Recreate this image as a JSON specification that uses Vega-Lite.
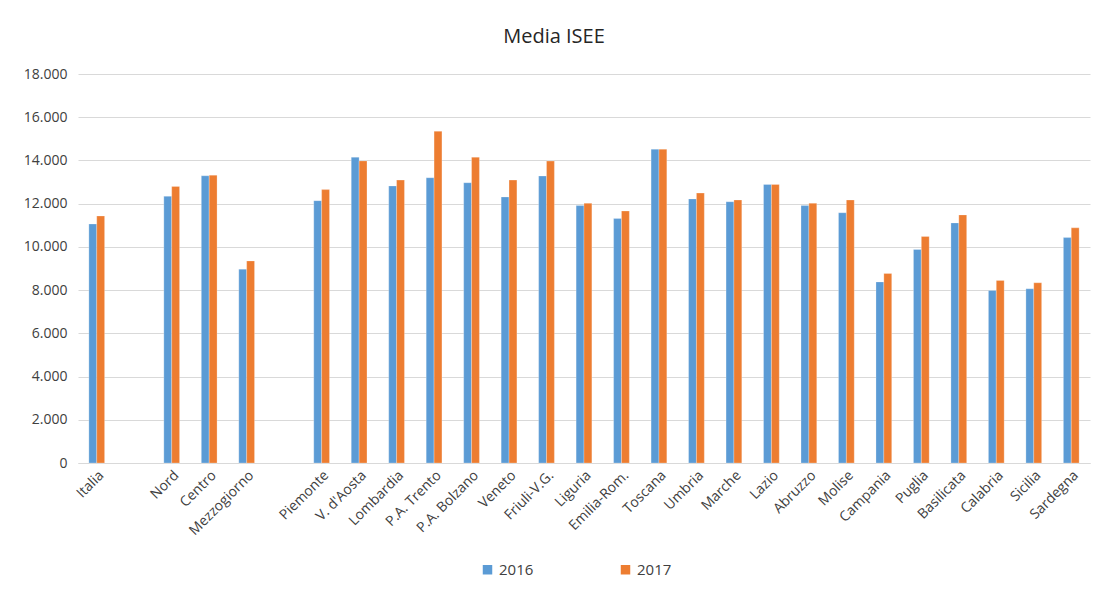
{
  "$schema": "https://vega.github.io/schema/vega-lite/v6.json",
  "autosize": {"type": "none"},
  "width": 1012,
  "height": 389,
  "padding": {"left": 78, "top": 74, "right": 9, "bottom": 134},
  "background": "white",
  "title": {"text": "Media ISEE", "fontSize": 20, "font": "Open Sans", "fontWeight": "normal", "color": "#262626", "offset": 20, "dx": -30},
  "data": {"values": [
    {"area": "Italia", "year": "2016", "isee": 11060}, {"area": "Italia", "year": "2017", "isee": 11430},
    {"area": "Nord", "year": "2016", "isee": 12340}, {"area": "Nord", "year": "2017", "isee": 12800},
    {"area": "Centro", "year": "2016", "isee": 13290}, {"area": "Centro", "year": "2017", "isee": 13320},
    {"area": "Mezzogiorno", "year": "2016", "isee": 8970}, {"area": "Mezzogiorno", "year": "2017", "isee": 9350},
    {"area": "Piemonte", "year": "2016", "isee": 12140}, {"area": "Piemonte", "year": "2017", "isee": 12650},
    {"area": "V. d'Aosta", "year": "2016", "isee": 14150}, {"area": "V. d'Aosta", "year": "2017", "isee": 13980},
    {"area": "Lombardia", "year": "2016", "isee": 12820}, {"area": "Lombardia", "year": "2017", "isee": 13090},
    {"area": "P.A. Trento", "year": "2016", "isee": 13200}, {"area": "P.A. Trento", "year": "2017", "isee": 15350},
    {"area": "P.A. Bolzano", "year": "2016", "isee": 12970}, {"area": "P.A. Bolzano", "year": "2017", "isee": 14150},
    {"area": "Veneto", "year": "2016", "isee": 12310}, {"area": "Veneto", "year": "2017", "isee": 13090},
    {"area": "Friuli-V.G.", "year": "2016", "isee": 13280}, {"area": "Friuli-V.G.", "year": "2017", "isee": 13970},
    {"area": "Liguria", "year": "2016", "isee": 11910}, {"area": "Liguria", "year": "2017", "isee": 12020},
    {"area": "Emilia-Rom.", "year": "2016", "isee": 11310}, {"area": "Emilia-Rom.", "year": "2017", "isee": 11660},
    {"area": "Toscana", "year": "2016", "isee": 14520}, {"area": "Toscana", "year": "2017", "isee": 14520},
    {"area": "Umbria", "year": "2016", "isee": 12220}, {"area": "Umbria", "year": "2017", "isee": 12490},
    {"area": "Marche", "year": "2016", "isee": 12090}, {"area": "Marche", "year": "2017", "isee": 12170},
    {"area": "Lazio", "year": "2016", "isee": 12890}, {"area": "Lazio", "year": "2017", "isee": 12890},
    {"area": "Abruzzo", "year": "2016", "isee": 11910}, {"area": "Abruzzo", "year": "2017", "isee": 12020},
    {"area": "Molise", "year": "2016", "isee": 11580}, {"area": "Molise", "year": "2017", "isee": 12170},
    {"area": "Campania", "year": "2016", "isee": 8380}, {"area": "Campania", "year": "2017", "isee": 8770},
    {"area": "Puglia", "year": "2016", "isee": 9880}, {"area": "Puglia", "year": "2017", "isee": 10480},
    {"area": "Basilicata", "year": "2016", "isee": 11110}, {"area": "Basilicata", "year": "2017", "isee": 11480},
    {"area": "Calabria", "year": "2016", "isee": 7980}, {"area": "Calabria", "year": "2017", "isee": 8450},
    {"area": "Sicilia", "year": "2016", "isee": 8060}, {"area": "Sicilia", "year": "2017", "isee": 8340},
    {"area": "Sardegna", "year": "2016", "isee": 10430}, {"area": "Sardegna", "year": "2017", "isee": 10880}
  ]},
  "mark": {"type": "bar", "stroke": "white", "strokeOpacity": 0.5, "strokeWidth": 0.5},
  "encoding": {
    "x": {
      "field": "area", "type": "nominal",
      "scale": {"domain": ["Italia", "_gap1", "Nord", "Centro", "Mezzogiorno", "_gap2", "Piemonte", "V. d'Aosta", "Lombardia", "P.A. Trento", "P.A. Bolzano", "Veneto", "Friuli-V.G.", "Liguria", "Emilia-Rom.", "Toscana", "Umbria", "Marche", "Lazio", "Abruzzo", "Molise", "Campania", "Puglia", "Basilicata", "Calabria", "Sicilia", "Sardegna"], "paddingInner": 0.58, "paddingOuter": 0.29},
      "axis": {"title": null, "labelAngle": -45, "labelAlign": "right", "labelBaseline": "top", "labelFont": "Open Sans", "labelFontSize": 14, "labelColor": "#404040", "labelExpr": "indexof(datum.value, '_gap') == 0 ? '' : datum.value", "ticks": false, "domainColor": "#d9d9d9", "labelPadding": 5, "grid": false}
    },
    "xOffset": {"field": "year", "type": "nominal"},
    "y": {
      "field": "isee", "type": "quantitative",
      "scale": {"domain": [0, 18000]},
      "axis": {"title": null, "values": [0, 2000, 4000, 6000, 8000, 10000, 12000, 14000, 16000, 18000], "labelExpr": "replace(format(datum.value, ',d'), ',', '.')", "labelFont": "Open Sans", "labelFontSize": 14, "labelColor": "#404040", "ticks": false, "domain": false, "gridColor": "#d9d9d9", "labelPadding": 11}
    },
    "color": {
      "field": "year", "type": "nominal",
      "scale": {"domain": ["2016", "2017"], "range": ["#5B9BD5", "#ED7D31"]},
      "legend": {"title": null, "orient": "none", "legendX": 402, "legendY": 488, "direction": "horizontal", "columns": 2, "columnPadding": 84, "symbolType": "square", "symbolSize": 90, "symbolStrokeWidth": 0, "labelFont": "Open Sans", "labelFontSize": 15, "labelColor": "#404040", "labelOffset": 4}
    }
  },
  "config": {"view": {"stroke": null}}
}
